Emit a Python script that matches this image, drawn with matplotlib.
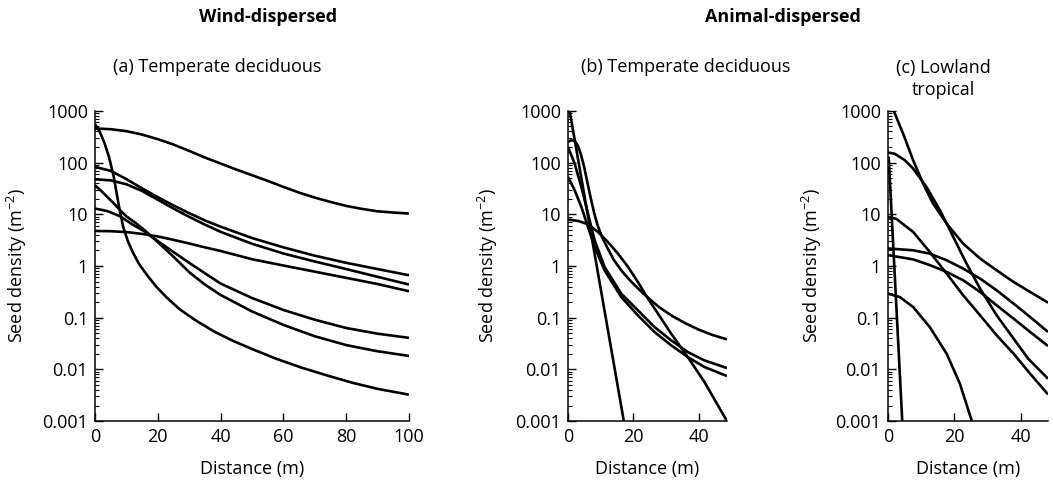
import numpy as np
import matplotlib.pyplot as plt
from matplotlib.ticker import LogLocator, NullFormatter

plt.rcParams['font.family'] = ['Open Sans', 'DejaVu Sans']
plt.rcParams['mathtext.fontset'] = 'custom'
plt.rcParams['mathtext.rm'] = 'Open Sans'

# --- (a) wind-dispersed, temperate deciduous ---
a_x_top = [0, 5, 10, 15, 20, 25, 30, 35, 40, 45, 50, 55, 60, 65, 70, 75, 80, 85, 90, 95, 100]
a_y_top = [455, 442, 404, 348, 283, 223, 168, 125, 95.7, 73.3, 56.9, 44.2, 33.8, 26.2, 21.0,
           17.3, 14.5, 12.7, 11.4, 10.8, 10.3]

a_x_steep = [0, 1.5, 3, 4.5, 6, 7.5, 9, 10.5, 12, 14, 16.5, 19.5, 23, 27, 32, 38, 44, 51, 58,
             66, 74, 82, 90, 100]
a_y_steep = [550, 398, 240, 126, 52.5, 15.8, 5.6, 3.0, 1.86, 1.1, 0.676, 0.398, 0.24, 0.145,
             0.089, 0.0537, 0.0355, 0.0234, 0.0158, 0.0107, 0.0076, 0.0055, 0.0042, 0.00324]

a_x_mid = [0, 5, 10, 15, 20, 25, 30, 35, 40, 50, 60, 70, 80, 90, 100]
a_y_80 = [82.4, 69.2, 47.9, 31.6, 21.4, 14.8, 10.5, 7.59, 5.75, 3.47, 2.29, 1.58, 1.15, 0.871, 0.661]
a_y_45 = [47.5, 45.2, 38.0, 28.2, 19.1, 12.9, 8.91, 6.31, 4.57, 2.69, 1.74, 1.22, 0.871, 0.617, 0.437]

a_x_35 = [0, 2, 4, 6, 8, 10, 13, 16, 20, 25, 30, 35, 40, 50, 60, 70, 80, 90, 100]
a_y_35 = [36.3, 28.2, 21.4, 16.2, 12.0, 9.12, 6.76, 4.79, 2.88, 1.51, 0.759, 0.437, 0.275,
          0.132, 0.0724, 0.0437, 0.0295, 0.0224, 0.0182]

a_x_12 = [0, 4, 8, 12, 16, 20, 25, 30, 35, 40, 50, 60, 70, 80, 90, 100]
a_y_12 = [12.9, 11.5, 9.12, 6.31, 4.57, 3.02, 1.86, 1.15, 0.724, 0.457, 0.240, 0.141, 0.0912,
          0.0631, 0.049, 0.0407]

a_x_4 = [0, 5, 10, 15, 20, 25, 30, 35, 40, 50, 60, 70, 80, 90, 100]
a_y_4 = [4.75, 4.70, 4.52, 4.17, 3.72, 3.20, 2.72, 2.29, 1.95, 1.35, 1.02, 0.776, 0.589, 0.447, 0.324]

# --- (b) animal-dispersed, temperate deciduous ---
b_x_line = [0.5, 17.1]
b_y_line = [1000, 0.001]

b_x_hump = [0, 1, 2, 3, 4, 5, 6, 7, 8, 9, 10.5, 12, 14, 16.5, 19, 22, 25, 28, 32, 36, 40, 44, 48.7]
b_y_hump = [251, 269, 263, 214, 141, 79.4, 39.8, 20.0, 10.7, 6.31, 3.55, 2.29, 1.32, 0.794,
            0.525, 0.339, 0.229, 0.158, 0.107, 0.0776, 0.0589, 0.0468, 0.038]

b_x_mid = [0, 2.04, 4.08, 6.12, 8.16, 11.2, 16.3, 21.4, 26.5, 31.6, 36.7, 41.8, 48.7]
b_y_200 = [201, 95.7, 33.8, 10.3, 3.14, 0.957, 0.292, 0.139, 0.0659, 0.0364, 0.0216, 0.0149, 0.0106]
b_y_55 = [52.8, 29.2, 13.9, 5.69, 2.33, 0.824, 0.251, 0.111, 0.0528, 0.0292, 0.0173, 0.0111, 0.00743]

b_x_gauss = [0, 3.06, 6.12, 9.18, 12.2, 15.3, 18.4, 21.4, 24.5, 27.6, 31.6, 36.7, 41.8, 48.7]
b_y_gauss = [7.89, 7.43, 6.40, 4.55, 2.92, 1.73, 0.957, 0.490, 0.233, 0.119, 0.049, 0.0173,
             0.00569, 0.001]

# --- (c) animal-dispersed, lowland tropical ---
c_x_1000 = [1.72, 4.55, 7.58, 10.6, 13.6, 17.7, 22.7, 27.8, 32.8, 37.9, 42.9, 48.3]
c_y_1000 = [1000, 364, 111, 39.3, 16.1, 6.59, 2.70, 1.39, 0.824, 0.490, 0.314, 0.195]

c_x_150 = [0, 2, 5, 7.58, 11.6, 15.7, 19.7, 23.7, 27.8, 32.8, 37.9, 42.3, 48.3]
c_y_150 = [156, 148, 112, 76.6, 33.8, 11.9, 3.64, 1.11, 0.364, 0.111, 0.0393, 0.0161, 0.00659]

c_x_flat = [0, 7.58, 12.6, 17.7, 22.7, 27.8, 32.8, 37.9, 42.9, 48.3]
c_y_2 = [2.18, 2.01, 1.73, 1.29, 0.887, 0.569, 0.338, 0.187, 0.103, 0.0528]
c_y_16 = [1.62, 1.34, 1.04, 0.766, 0.528, 0.314, 0.173, 0.0957, 0.0528, 0.0283]

c_x_8 = [0, 2.53, 7.58, 12.6, 17.7, 22.7, 27.8, 32.8, 37.9, 42.9, 48.3]
c_y_8 = [8.88, 8.13, 4.55, 1.87, 0.711, 0.270, 0.111, 0.0455, 0.0201, 0.00824, 0.00328]

c_x_03 = [0, 3.54, 7.58, 12.6, 17.7, 21.7, 25.3]
c_y_03 = [0.292, 0.251, 0.161, 0.0659, 0.0201, 0.00528, 0.001]

c_x_line = [0.2, 4.3]
c_y_line = [130, 0.001]

y_ticks = [1000, 100, 10, 1, 0.1, 0.01, 0.001]
y_labels = ['1000', '100', '10', '1', '0.1', '0.01', '0.001']

FS = 13
LW = 1.9

fig = plt.figure(figsize=(10.53, 4.84), dpi=100)
bottom, height = 0.130, 0.641
ax_a = fig.add_axes([0.0902, bottom, 0.2982, height])
ax_b = fig.add_axes([0.5394, bottom, 0.1510, height])
ax_c = fig.add_axes([0.8433, bottom, 0.1520, height])

series = {
    ax_a: [(a_x_top, a_y_top), (a_x_steep, a_y_steep), (a_x_mid, a_y_80), (a_x_mid, a_y_45),
           (a_x_35, a_y_35), (a_x_12, a_y_12), (a_x_4, a_y_4)],
    ax_b: [(b_x_line, b_y_line), (b_x_hump, b_y_hump), (b_x_mid, b_y_200), (b_x_mid, b_y_55),
           (b_x_gauss, b_y_gauss)],
    ax_c: [(c_x_1000, c_y_1000), (c_x_150, c_y_150), (c_x_flat, c_y_2), (c_x_flat, c_y_16),
           (c_x_8, c_y_8), (c_x_03, c_y_03), (c_x_line, c_y_line)],
}

xlims = {ax_a: (0, 100), ax_b: (0, 48.7), ax_c: (0, 48.3)}
xticks = {ax_a: [0, 20, 40, 60, 80, 100], ax_b: [0, 20, 40], ax_c: [0, 20, 40]}
ylab_x = {ax_a: -0.21, ax_b: -0.428, ax_c: -0.40}

for ax, lines in series.items():
    for xs, ys in lines:
        ax.plot(xs, ys, color='black', lw=LW, solid_capstyle='butt', solid_joinstyle='round')
    ax.set_yscale('log')
    ax.set_ylim(0.001, 1000)
    ax.set_xlim(*xlims[ax])
    ax.set_yticks(y_ticks)
    ax.set_yticklabels(y_labels)
    ax.yaxis.set_minor_locator(LogLocator(base=10, subs=np.arange(2, 10), numticks=20))
    ax.yaxis.set_minor_formatter(NullFormatter())
    ax.set_xticks(xticks[ax])
    for s in ['top', 'right']:
        ax.spines[s].set_visible(False)
    for s in ['left', 'bottom']:
        ax.spines[s].set_linewidth(1.1)
    ax.tick_params(axis='both', which='major', direction='in', length=6, width=1.0,
                   labelsize=FS, pad=5)
    ax.tick_params(axis='y', which='minor', direction='in', length=3, width=0.8)
    ax.set_xlabel('Distance (m)', fontsize=FS, labelpad=10)
    ax.set_ylabel('Seed density (m$^{-2}$)', fontsize=FS)
    ax.yaxis.set_label_coords(ylab_x[ax], 0.5)

fig.text(268 / 1053, 1 - 17 / 484, 'Wind-dispersed', fontsize=FS, fontweight='bold',
         ha='center', va='center')
fig.text(783 / 1053, 1 - 17 / 484, 'Animal-dispersed', fontsize=FS, fontweight='bold',
         ha='center', va='center')
fig.text(217 / 1053, 1 - 67 / 484, '(a) Temperate deciduous', fontsize=FS,
         ha='center', va='center')
fig.text(686 / 1053, 1 - 67 / 484, '(b) Temperate deciduous', fontsize=FS,
         ha='center', va='center')
fig.text(943 / 1053, 1 - 79 / 484, '(c) Lowland\ntropical', fontsize=FS,
         ha='center', va='center', multialignment='center', linespacing=1.3)

fig.savefig('out.png', dpi=100)
